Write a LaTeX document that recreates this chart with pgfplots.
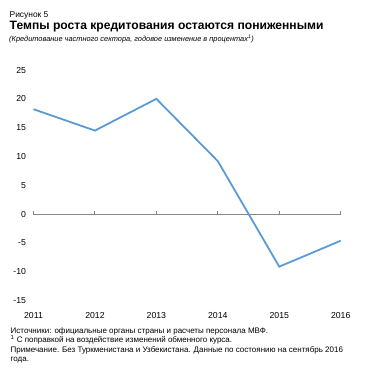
\documentclass[border=0pt]{standalone}
\usepackage{fontspec}
\setmainfont{Liberation Sans}
\usepackage{pgfplots}
\pgfplotsset{compat=1.18}
\definecolor{lineblue}{RGB}{91,155,213}
\definecolor{zerogray}{RGB}{134,134,134}
\begin{document}
\begin{tikzpicture}[x=1pt,y=1pt]
\path[use as bounding box] (0,0) rectangle (371,376);
\begin{axis}[
  at={(33.5pt,75.3pt)}, anchor=south west,
  scale only axis, width=307.2pt, height=230.7pt,
  xmin=2011, xmax=2016, ymin=-15, ymax=25,
  axis line style={draw=none},
  major tick length=0pt,
  xtick={2011,2012,2013,2014,2015,2016},
  xticklabels={2011,2012,2013,2014,2015,2016},
  ytick={-15,-10,-5,0,5,10,15,20,25},
  /pgf/number format/assume math mode=true,
  tick label style={font=\fontsize{8.7}{10}\selectfont},
  xticklabel style={yshift=-8pt},
  yticklabel style={xshift=-4pt},
  clip=false,
]
\addplot[zerogray, line width=0.9pt] coordinates {(2011,0) (2016,0)};
\addplot[zerogray, line width=0.9pt, ycomb] coordinates {(2011,0.55) (2012,0.55) (2013,0.55) (2014,0.55) (2015,0.55) (2016,0.55)};
\addplot[lineblue, line width=1.8pt, line join=miter] coordinates {
  (2011,18.2) (2012,14.5) (2013,20.0) (2014,9.2) (2015,-9.1) (2016,-4.6)};
\end{axis}
\node[anchor=base west, inner sep=0, font=\fontsize{8.4}{10}\selectfont] at (9.5,376-17.5) {Рисунок 5};
\node[anchor=base west, inner sep=0, font=\fontsize{12.1}{14}\selectfont\bfseries] at (9.5,376-29.3) {Темпы роста кредитования остаются пониженными};
\node[anchor=base west, inner sep=0, font=\fontsize{7.4}{10}\selectfont\itshape] at (9,376-41.5) {(Кредитование частного сектора, годовое изменение в процентах\textsuperscript{1})};
\begin{scope}[every node/.style={anchor=base west, inner sep=0, font=\fontsize{8}{10}\selectfont}]
\node at (10.5,376-333.3) {Источники: официальные органы страны и расчеты персонала МВФ.};
\node at (10.5,376-342.8) {\textsuperscript{1} С поправкой на воздействие изменений обменного курса.};
\node at (10.5,376-352.3) {Примечание. Без Туркменистана и Узбекистана. Данные по состоянию на сентябрь 2016};
\node at (10.5,376-361.8) {года.};
\end{scope}
\end{tikzpicture}
\end{document}
